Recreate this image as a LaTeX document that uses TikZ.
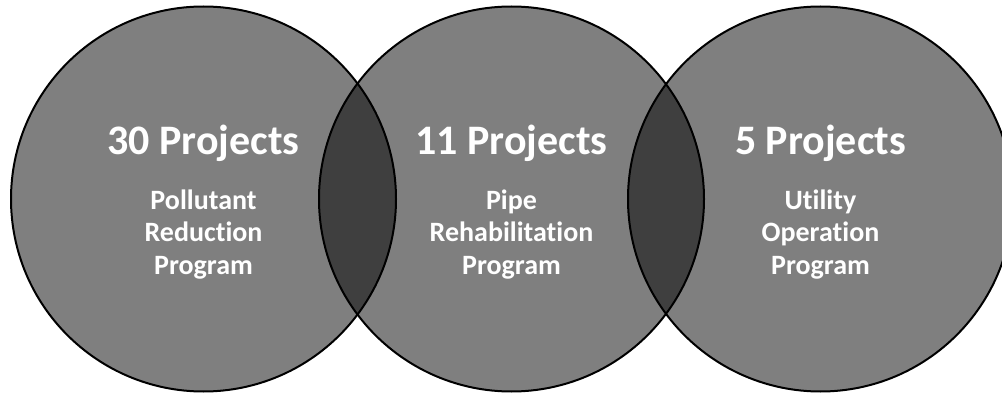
\documentclass[tikz,border=0pt]{standalone}
\usepackage{fontspec}
\setmainfont{Carlito}[Ligatures=NoCommon]
\usepackage{tikz}

\begin{document}
\begin{tikzpicture}
[x=1pt,y=-1pt,
 set/.style={circle,draw=black,line width=2pt,fill=black,fill opacity=0.5,minimum size=385pt,inner sep=0pt},
 count/.style={text=white,anchor=base,font=\fontsize{42}{50}\selectfont\bfseries},
 prog/.style={text=white,anchor=base,align=center,font=\fontsize{28}{32.4}\selectfont\bfseries}]
\useasboundingbox (0,0) rectangle (1002,393);
\clip (0,0) rectangle (1002,393);
\node (s1) at (203.5,199) [set] {};
\node (s2) at (511.5,199) [set] {};
\node (s3) at (820.5,199) [set] {};
\node (c1) at (203.5,155) [count] {30 Projects};
\node (c2) at (511.5,155) [count] {11 Projects};
\node (c3) at (820.5,155) [count] {5 Projects};
% base of a multi-line node is the last line
\node (p1) at (203.5,274) [prog] {Pollutant\\Reduction\\Program};
\node (p2) at (511.5,274) [prog] {Pipe\\Rehabilitation\\Program};
\node (p3) at (820.5,274) [prog] {Utility\\Operation\\Program};
\end{tikzpicture}
\end{document}
